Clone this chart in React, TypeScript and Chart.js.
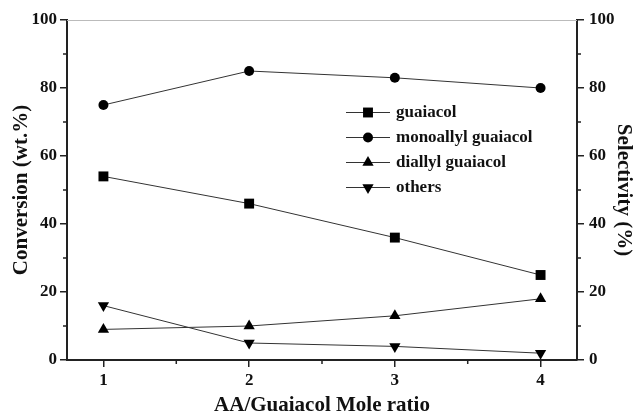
import React, { useEffect, useRef } from "react";
import { Chart, registerables } from "chart.js";

Chart.register(...registerables);

// ---- data ----
const ratios = [1, 2, 3, 4];
const guaiacol = [54, 46, 36, 25];
const monoallylGuaiacol = [75, 85, 83, 80];
const diallylGuaiacol = [9, 10, 13, 18];
const others = [16, 5, 4, 2];
const seriesNames = ["guaiacol", "monoallyl guaiacol", "diallyl guaiacol", "others"];
const yTicks = [0, 20, 40, 60, 80, 100];
const yMinorTicks = [10, 30, 50, 70, 90];
const xMinorTicks = [1.5, 2.5, 3.5];

const FONT = "'Liberation Serif', 'Times New Roman', serif";
const AXIS = "#222";

type Marker = "rect" | "circle" | "triangle" | "triangleDown";
const markers: Marker[] = ["rect", "circle", "triangle", "triangleDown"];
const markerRadius = [7, 5, 6.5, 6.5];

function drawMarker(ctx: CanvasRenderingContext2D, m: Marker, x: number, y: number, r: number) {
  ctx.beginPath();
  if (m === "rect") {
    const s = Math.SQRT1_2 * r;
    ctx.rect(x - s, y - s, 2 * s, 2 * s);
  } else if (m === "circle") {
    ctx.arc(x, y, r, 0, Math.PI * 2);
  } else {
    const dir = m === "triangle" ? 1 : -1;
    const h = r * 0.5;
    const w = r * Math.sin(Math.PI / 3);
    ctx.moveTo(x, y - dir * r);
    ctx.lineTo(x - w, y + dir * h);
    ctx.lineTo(x + w, y + dir * h);
    ctx.closePath();
  }
  ctx.fill();
}

const extrasPlugin = {
  id: "extras",
  beforeDatasetsDraw(chart: any) {
    const { ctx, chartArea } = chart;
    ctx.save();
    ctx.strokeStyle = "#bbb";
    ctx.lineWidth = 1;
    ctx.beginPath();
    ctx.moveTo(chartArea.left, chartArea.top + 0.5);
    ctx.lineTo(chartArea.right, chartArea.top + 0.5);
    ctx.stroke();
    // minor ticks
    ctx.strokeStyle = AXIS;
    ctx.lineWidth = 1.5;
    const len = 4;
    const y = chart.scales.y;
    const y1 = chart.scales.y1;
    const x = chart.scales.x;
    ctx.beginPath();
    yMinorTicks.forEach((v) => {
      const p = y.getPixelForValue(v);
      ctx.moveTo(chartArea.left - len, p);
      ctx.lineTo(chartArea.left, p);
      const p1 = y1.getPixelForValue(v);
      ctx.moveTo(chartArea.right, p1);
      ctx.lineTo(chartArea.right + len, p1);
    });
    xMinorTicks.forEach((v) => {
      const p = x.getPixelForValue(v);
      ctx.moveTo(p, chartArea.bottom);
      ctx.lineTo(p, chartArea.bottom + len);
    });
    ctx.stroke();
    ctx.restore();
  },
  afterDatasetsDraw(chart: any) {
    const { ctx, chartArea } = chart;
    ctx.save();
    const lx0 = chartArea.left + 279;
    const lx1 = lx0 + 44;
    const tx = lx1 + 6;
    const y0 = chartArea.top + 92.5;
    const dy = 25;
    ctx.font = `bold 17px ${FONT}`;
    ctx.textBaseline = "middle";
    ctx.textAlign = "left";
    seriesNames.forEach((name, i) => {
      const yy = y0 + i * dy;
      ctx.strokeStyle = "#333";
      ctx.lineWidth = 1;
      ctx.beginPath();
      ctx.moveTo(lx0, yy);
      ctx.lineTo(lx1, yy);
      ctx.stroke();
      ctx.fillStyle = "#000";
      drawMarker(ctx, markers[i], (lx0 + lx1) / 2, yy, markerRadius[i]);
      ctx.fillStyle = "#111";
      ctx.fillText(name, tx, yy);
    });
    ctx.restore();
  },
};

export default function App() {
  const ref = useRef<HTMLCanvasElement>(null);

  useEffect(() => {
    if (!ref.current) return;
    const series = [guaiacol, monoallylGuaiacol, diallylGuaiacol, others];
    const datasets = series.map((vals, i) => ({
      label: seriesNames[i],
      data: ratios.map((r, j) => ({ x: r, y: vals[j] })),
      yAxisID: i === 3 ? "y1" : "y",
      borderColor: "#333",
      borderWidth: 1,
      backgroundColor: "#000",
      pointBackgroundColor: "#000",
      pointBorderColor: "#000",
      pointBorderWidth: 0,
      pointRadius: markerRadius[i],
      pointHoverRadius: markerRadius[i],
      pointStyle: markers[i] === "triangleDown" ? "triangle" : markers[i],
      pointRotation: markers[i] === "triangleDown" ? 180 : 0,
      tension: 0,
      clip: false as any,
    }));

    const tickFont = { family: FONT, size: 17, weight: "bold" as const };
    const titleFont = { family: FONT, size: 21, weight: "bold" as const, lineHeight: 1 };

    const yAxis = (position: "left" | "right", title: string, width: number, titlePad: number, tickPad: number) => ({
      type: "linear" as const,
      position,
      min: 0,
      max: 100,
      afterBuildTicks: (s: any) => {
        s.ticks = yTicks.map((v) => ({ value: v }));
      },
      afterFit: (s: any) => {
        s.width = width;
      },
      ticks: { font: tickFont, color: "#111", padding: tickPad },
      grid: { drawOnChartArea: false, drawTicks: true, tickLength: 7, color: AXIS, lineWidth: 1.5 },
      border: { display: true, color: AXIS, width: 2 },
      title: { display: true, text: title, font: titleFont, color: "#111", padding: { top: titlePad, bottom: 0 } },
    });

    const chart = new Chart(ref.current, {
      type: "line",
      data: { datasets },
      options: {
        animation: false,
        responsive: true,
        maintainAspectRatio: false,
        layout: { padding: { top: 20, left: 0, right: 0, bottom: 0 } },
        plugins: { legend: { display: false }, tooltip: { enabled: false } },
        scales: {
          x: {
            type: "linear",
            min: 0.75,
            max: 4.25,
            afterBuildTicks: (s: any) => {
              s.ticks = ratios.map((v) => ({ value: v }));
            },
            afterFit: (s: any) => {
              s.height = 56;
            },
            ticks: { font: tickFont, color: "#111", padding: 3 },
            grid: { drawOnChartArea: false, drawTicks: true, tickLength: 7, color: AXIS, lineWidth: 1.5 },
            border: { display: true, color: AXIS, width: 2 },
            title: {
              display: true,
              text: "AA/Guaiacol Mole ratio",
              font: titleFont,
              color: "#111",
              padding: { top: -1, bottom: 0 },
            },
          },
          y: yAxis("left", "Conversion (wt.%)", 67, 11.5, 3),
          y1: yAxis("right", "Selectivity (%)", 60, 3.5, 5),
        } as any,
      },
      plugins: [extrasPlugin],
    });
    return () => chart.destroy();
  }, []);

  return (
    <div style={{ position: "absolute", left: 0, top: 0, width: 637, height: 416 }}>
      <canvas ref={ref} />
    </div>
  );
}
